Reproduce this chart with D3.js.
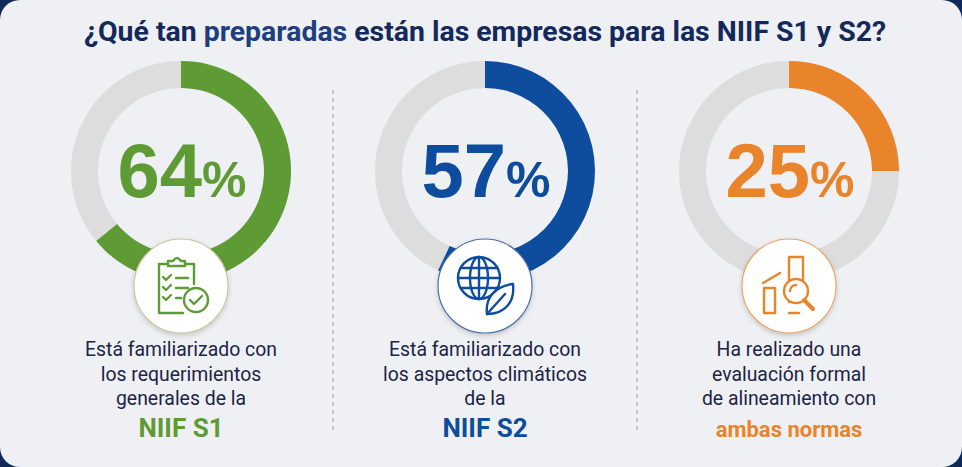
<!DOCTYPE html>
<html>
<head>
<meta charset="utf-8">
<script src="https://cdn.jsdelivr.net/npm/d3@7"></script>
<style>
  html, body { margin: 0; padding: 0; background: #0f2a5a; }
  svg { display: block; font-family: Roboto, "Noto Sans", sans-serif; }
</style>
</head>
<body>
<div id="chart"></div>
<script>
(function donuts() {

  // data
  const titleParts = ["¿Qué tan ", "preparadas", " están las empresas para las NIIF S1 y S2?"];
  const keys = ["NIIF S1", "NIIF S2", "ambas normas"];
  const values = [64, 57, 25];
  const descriptions = [
    ["Está familiarizado con", "los requerimientos", "generales de la"],
    ["Está familiarizado con", "los aspectos climáticos", "de la"],
    ["Ha realizado una", "evaluación formal", "de alineamiento con"]
  ];
  const icons = ["clipboard", "globe", "chart"];

  const colors = ["#5f9b35", "#0e4c9d", "#e9842a"];
  const rimColors = ["#c9c6a0", "#4b6ea8", "#eaa56a"];
  const track = "#dddddd";

  let width = 962,
    height = 467,
    cy = 171,
    outerR = 110,
    innerR = 83,
    iconY = 286,
    iconR = 47;

  const svg = d3.select("#chart")
    .append("svg")
    .attr("width", width)
    .attr("height", height)
    .attr("viewBox", [0, 0, width, height]);

  const defs = svg.append("defs");
  const sh = defs.append("filter").attr("id", "shadow")
    .attr("x", "-30%").attr("y", "-30%").attr("width", "160%").attr("height", "160%");
  sh.append("feDropShadow")
    .attr("dx", 0).attr("dy", 2).attr("stdDeviation", 2.5)
    .attr("flood-color", "#000").attr("flood-opacity", 0.18);

  // card
  svg.append("rect")
    .attr("x", 0).attr("y", 0)
    .attr("width", width).attr("height", height)
    .attr("rx", 20)
    .attr("fill", "#eff0f3");

  // title
  const title = svg.append("text")
    .attr("x", width / 2 + 4)
    .attr("y", 41)
    .attr("text-anchor", "middle")
    .attr("font-size", 28.4)
    .attr("font-weight", 700)
    .attr("fill", "#13295c");
  titleParts.forEach((t, i) => {
    title.append("tspan")
      .attr("fill", i === 1 ? "#1d3f7e" : "#13295c")
      .text(t);
  });

  let x = d3.scalePoint()
    .domain(keys)
    .range([181, 789]);

  let angle = d3.scaleLinear()
    .domain([0, 100])
    .range([0, 2 * Math.PI]);

  const arc = d3.arc()
    .innerRadius(innerR)
    .outerRadius(outerR);

  // dashed separators between columns
  for (let i = 0; i < keys.length - 1; i++) {
    let sx = (x(keys[i]) + x(keys[i + 1])) / 2;
    svg.append("line")
      .attr("x1", sx).attr("x2", sx)
      .attr("y1", 90).attr("y2", 434)
      .attr("stroke", "#a9acb2")
      .attr("stroke-width", 1.2)
      .attr("stroke-dasharray", "4 4");
  }

  keys.forEach((k, i) => {
    let g = svg.append("g")
      .attr("transform", `translate(${x(k)},${cy})`);

    g.append("path")
      .attr("d", arc({ startAngle: 0, endAngle: angle(100) }))
      .attr("fill", track);

    g.append("path")
      .attr("d", arc({ startAngle: 0, endAngle: angle(values[i]) }))
      .attr("fill", colors[i]);

    let pct = g.append("text")
      .attr("x", 1)
      .attr("y", 26)
      .attr("text-anchor", "middle")
      .attr("font-family", "'Liberation Sans', Arial, sans-serif")
      .attr("font-weight", 700)
      .attr("fill", colors[i]);
    pct.append("tspan").attr("font-size", 76).text(values[i]);
    pct.append("tspan").attr("font-size", 50).text("%");

    // icon badge
    let ig = svg.append("g")
      .attr("transform", `translate(${x(k)},${iconY})`);
    ig.append("circle")
      .attr("r", iconR)
      .attr("fill", "#ffffff")
      .attr("stroke", rimColors[i])
      .attr("stroke-width", 1.2)
      .attr("filter", "url(#shadow)");
    drawIcon(ig, icons[i], colors[i]);

    // description
    let tx = svg.append("text")
      .attr("x", x(k))
      .attr("text-anchor", "middle")
      .attr("fill", "#1c2447");
    descriptions[i].forEach((line, j) => {
      tx.append("tspan")
        .attr("x", x(k))
        .attr("y", 356 + j * 24.5)
        .attr("font-size", 19.4)
        .text(line);
    });
    svg.append("text")
      .attr("x", x(k))
      .attr("y", 437)
      .attr("text-anchor", "middle")
      .attr("font-size", i === 2 ? 22 : 26)
      .attr("font-weight", 700)
      .attr("fill", colors[i])
      .text(k);
  });

  function drawIcon(g, kind, color) {
    let s = g.append("g")
      .attr("fill", "none")
      .attr("stroke", color)
      .attr("stroke-width", 2.4)
      .attr("stroke-linecap", "round")
      .attr("stroke-linejoin", "round");

    if (kind === "clipboard") {
      s.append("path").attr("d", "M-13,-22 H-22 V27 H2 M13,-2 V-22 H4");
      s.append("path").attr("d", "M-13,-20 V-25 H-8 Q-4,-31 0,-25 H4 V-20 Z");
      [-9, 1, 11].forEach((yy, j) => {
        s.append("path").attr("d", `M-18,${yy} l3,3 l5,-5`);
        s.append("path").attr("d", `M-5,${yy + 1} H${j === 2 ? 0 : 7}`);
      });
      s.append("circle").attr("cx", 15).attr("cy", 14).attr("r", 12)
        .attr("fill", "#fff");
      s.append("path").attr("d", "M9,14 l4,4 l8,-8");
    } else if (kind === "globe") {
      let c = s.append("g").attr("transform", "translate(-6,-8)");
      c.append("circle").attr("r", 21);
      c.append("ellipse").attr("rx", 9).attr("ry", 21);
      c.append("path").attr("d", "M0,-21 V21 M-21,0 H21 M-18,-10 H18 M-18,10 H18");
      s.append("path")
        .attr("d", "M2,28 C0,12 10,0 28,-2 C30,16 20,28 2,28 Z")
        .attr("fill", "#fff");
      s.append("path").attr("d", "M2,28 L20,8");
    } else {
      s.append("rect").attr("x", -25).attr("y", 2).attr("width", 11).attr("height", 25);
      s.append("path").attr("d", "M0,16 V-29 H14 V-6");
      s.append("path").attr("d", "M-26,-3 L-9,-13");
      s.append("path").attr("d", "M0,27 H10");
      s.append("circle").attr("cx", 7).attr("cy", 5).attr("r", 12).attr("fill", "#fff");
      s.append("path").attr("d", "M1,5 a6,6 0 0,1 6,-6");
      s.append("path").attr("d", "M15,14 L24,23").attr("stroke-width", 4);
    }
  }
})();
</script>
</body>
</html>
